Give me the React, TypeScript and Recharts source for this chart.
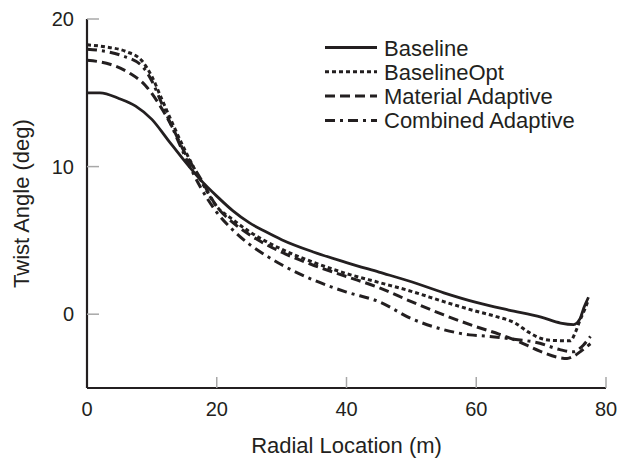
import React from "react";
import { Label, Legend, Line, LineChart, XAxis, YAxis } from "recharts";

// radial location (m) / twist angle (deg)
const baselineX = [0, 2, 5, 7.5, 10, 12.5, 15, 17.5, 20, 22.5, 25, 27.5, 30, 35, 40, 45, 50, 55, 60, 65, 70, 73, 75, 76, 76.6, 77.3];
const baselineY = [15.0, 15.0, 14.6, 14.1, 13.2, 11.8, 10.4, 9.1, 8.0, 7.0, 6.2, 5.6, 5.05, 4.2, 3.5, 2.85, 2.2, 1.45, 0.8, 0.28, -0.2, -0.6, -0.7, -0.3, 0.45, 1.15];

const optX = [0, 3, 6, 8.5, 10, 11.5, 13, 15, 17.5, 20, 22.5, 25, 27.5, 30, 35, 40, 45, 50, 55, 60, 63, 66, 68, 70, 72, 74.5, 75.3, 76, 76.7, 77.3];
const optY = [18.25, 18.1, 17.8, 17.15, 16.1, 14.6, 13.1, 11.2, 9.1, 7.3, 6.4, 5.6, 4.95, 4.4, 3.5, 2.75, 2.15, 1.55, 0.85, 0.2, -0.15, -0.6, -1.2, -1.65, -1.78, -1.8, -1.2, -0.4, 0.3, 1.0];

const materialX = [0, 3, 6.5, 9, 11, 13, 15, 17.5, 20, 22.5, 25, 27.5, 30, 35, 40, 45, 50, 55, 60, 63.5, 66, 69.8, 72.4, 74, 75, 76.3, 77.6];
const materialY = [17.2, 17.0, 16.35, 15.5, 14.3, 12.8, 11.0, 9.2, 7.3, 6.2, 5.4, 4.75, 4.2, 3.3, 2.55, 1.8, 0.85, -0.05, -0.85, -1.35, -1.75, -2.5, -2.9, -3.0, -2.85, -2.45, -2.0];

const combinedX = [0, 3, 5.5, 8.5, 10, 11.5, 13, 15, 17.5, 20, 22.5, 25, 27.5, 30, 35, 40, 45, 50, 55, 59, 62, 65, 69.8, 72.9, 74.9, 76.5, 77.6];
const combinedY = [17.95, 17.8, 17.5, 16.8, 15.8, 14.3, 12.8, 10.8, 8.6, 6.9, 5.7, 4.75, 4.0, 3.35, 2.3, 1.5, 0.85, -0.3, -1.05, -1.4, -1.5, -1.65, -1.97, -2.4, -2.55, -2.1, -1.5];

const xTicks = [0, 20, 40, 60, 80];
const yTicks = [0, 10, 20];

const INK = "#231f20";
const FONT = "'Liberation Sans', Arial, Helvetica, sans-serif";

const toPoints = (xs: number[], ys: number[]) => xs.map((x, i) => ({ x, y: ys[i] }));

const series = [
  { name: "Baseline", data: toPoints(baselineX, baselineY), dash: undefined, width: 2.8 },
  { name: "BaselineOpt", data: toPoints(optX, optY), dash: "4 3", width: 3 },
  { name: "Material Adaptive", data: toPoints(materialX, materialY), dash: "10 5", width: 3 },
  { name: "Combined Adaptive", data: toPoints(combinedX, combinedY), dash: "10 5 3 5", width: 3 },
];

function XTick({ x, y, payload }: any) {
  return (
    <g>
      {payload.value !== 0 && <line x1={x} x2={x} y1={y} y2={y - 11} stroke="#a8a8a8" strokeWidth={1.5} />}
      <text x={x} y={y + 28} textAnchor="middle" fill={INK} fontSize={20} fontFamily={FONT}>
        {payload.value}
      </text>
    </g>
  );
}

function YTick({ x, y, payload }: any) {
  return (
    <g>
      <line x1={x} x2={x + 12} y1={y} y2={y} stroke="#a8a8a8" strokeWidth={1.5} />
      <text x={x - 13} y={y + 7} textAnchor="end" fill={INK} fontSize={20} fontFamily={FONT}>
        {payload.value}
      </text>
    </g>
  );
}

function YTitle({ viewBox }: any) {
  const cx = viewBox.x + 21;
  const cy = viewBox.y + viewBox.height / 2;
  return (
    <text
      x={cx}
      y={cy}
      transform={`rotate(-90 ${cx} ${cy})`}
      textAnchor="middle"
      dominantBaseline="central"
      fill={INK}
      fontSize={22}
      fontFamily={FONT}
    >
      Twist Angle (deg)
    </text>
  );
}

function LegendBox() {
  return (
    <svg width={290} height={110}>
      {series.map((s, i) => {
        const cy = 17.5 + i * 24.3;
        return (
          <g key={s.name}>
            <line x1={7} x2={59} y1={cy} y2={cy} stroke={INK} strokeWidth={s.width} strokeDasharray={s.dash} />
            <text x={66} y={cy + 8} fill={INK} fontSize={22} fontFamily={FONT}>
              {s.name}
            </text>
          </g>
        );
      })}
    </svg>
  );
}

export default function App() {
  return (
    <div style={{ position: "absolute", left: 0, top: 0, width: 618, height: 458, background: "#fff" }}>
      <LineChart width={618} height={458} margin={{ top: 19, right: 12, bottom: 0, left: 0 }}>
        <XAxis
          type="number"
          dataKey="x"
          domain={[0, 80]}
          ticks={xTicks}
          height={70}
          axisLine={{ stroke: INK, strokeWidth: 2.2 }}
          tickLine={false}
          tickSize={0}
          tickMargin={0}
          tick={<XTick />}
        >
          <Label value="Radial Location (m)" position="insideBottom" offset={5} fill={INK} fontSize={22} fontFamily={FONT} />
        </XAxis>
        <YAxis
          type="number"
          domain={[-5, 20]}
          ticks={yTicks}
          width={87}
          allowDataOverflow
          axisLine={{ stroke: INK, strokeWidth: 2.2 }}
          tickLine={false}
          tickSize={0}
          tickMargin={0}
          tick={<YTick />}
          label={<YTitle />}
        />
        <Legend
          layout="vertical"
          align="center"
          verticalAlign="middle"
          wrapperStyle={{ top: 30, left: 318, width: 290 }}
          content={() => <LegendBox />}
        />
        {series.map((s) => (
          <Line
            key={s.name}
            name={s.name}
            data={s.data}
            dataKey="y"
            type="monotone"
            stroke={INK}
            strokeWidth={s.width}
            strokeDasharray={s.dash}
            dot={false}
            activeDot={false}
            isAnimationActive={false}
          />
        ))}
      </LineChart>
    </div>
  );
}
